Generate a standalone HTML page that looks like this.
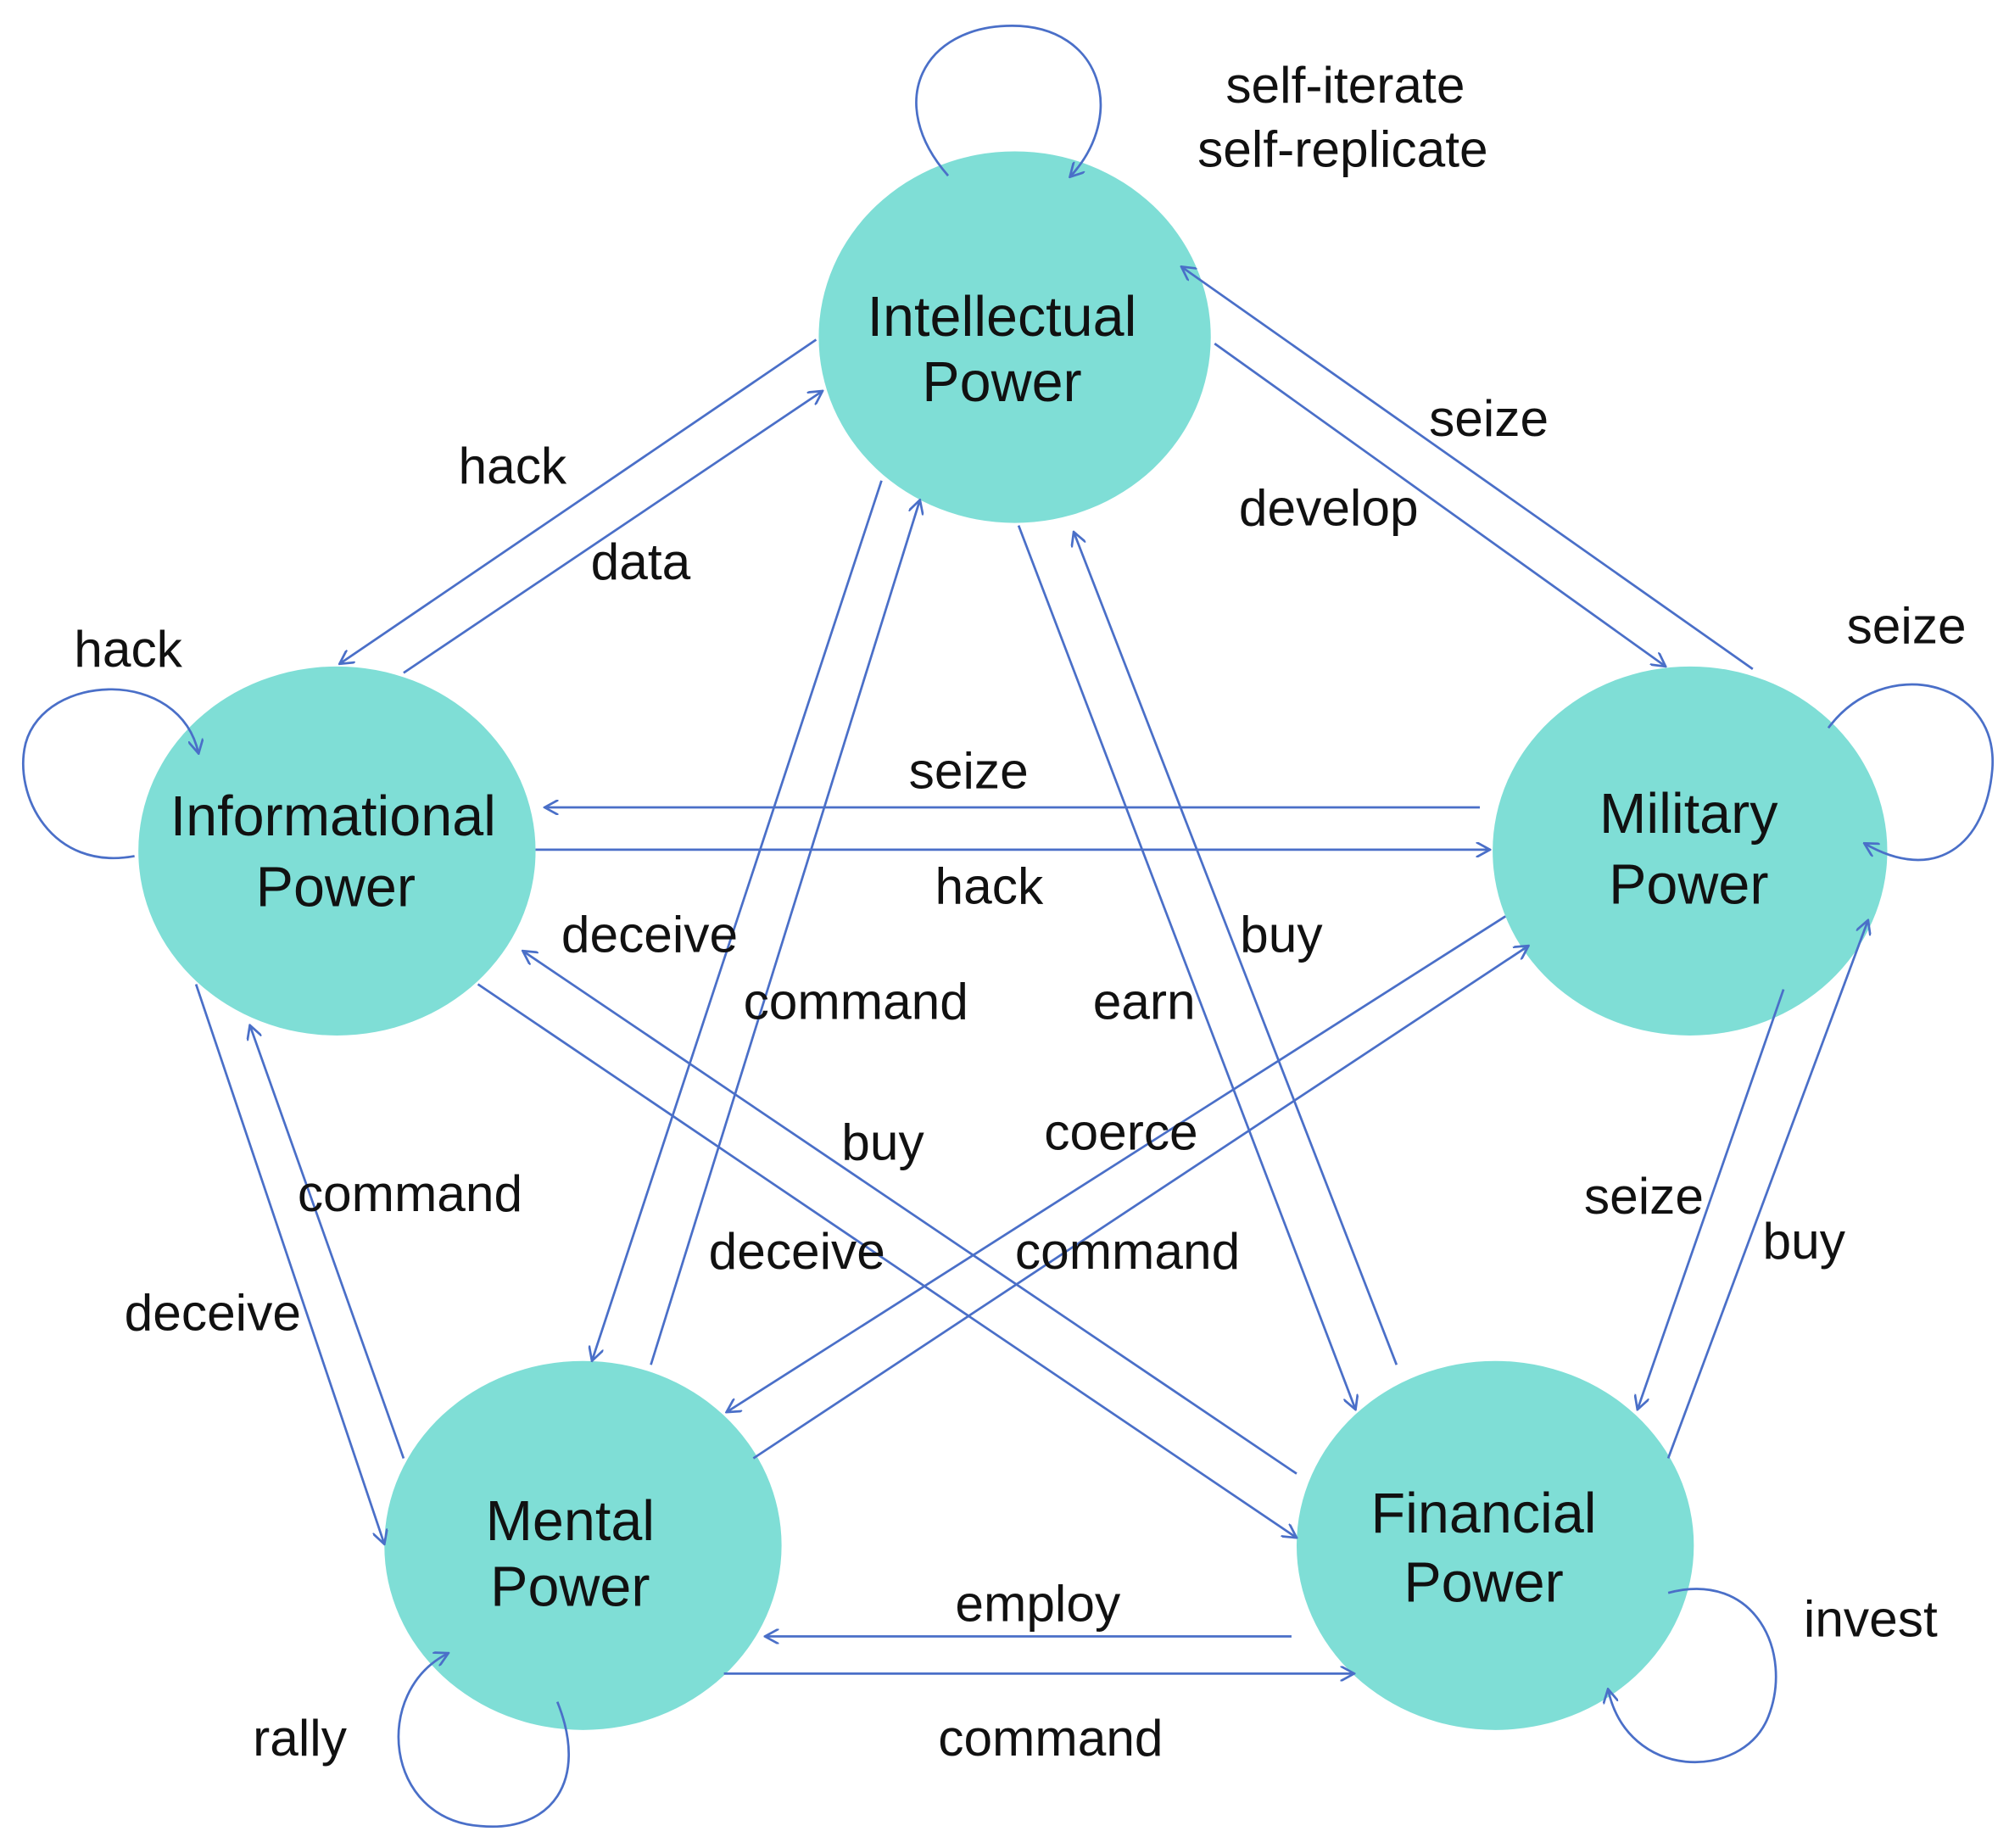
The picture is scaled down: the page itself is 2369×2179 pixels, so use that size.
<!DOCTYPE html>
<html><head><meta charset="utf-8"><style>
html,body{margin:0;padding:0;background:#fff;}
svg{display:block;}
text{font-family:"Liberation Sans",sans-serif;fill:#111;text-anchor:middle;}
</style></head><body>
<svg width="2369" height="2179" viewBox="0 0 1568 1442" xmlns="http://www.w3.org/2000/svg">
<defs>
<marker id="a" viewBox="0 0 12 12" refX="11" refY="6" markerWidth="12" markerHeight="12" markerUnits="userSpaceOnUse" orient="auto">
<path d="M0,0 L11,6 L0,12" fill="none" stroke="#4a6fc8" stroke-width="1.8"/>
</marker>
</defs>
<g fill="#7fded6">
<ellipse cx="792" cy="263" rx="153" ry="145"/>
<ellipse cx="263" cy="664" rx="155" ry="144"/>
<ellipse cx="1319" cy="664" rx="154" ry="144"/>
<ellipse cx="455" cy="1206" rx="155" ry="144"/>
<ellipse cx="1167" cy="1206" rx="155" ry="144"/>
</g>
<g stroke="#4a6fc8" stroke-width="1.8" fill="none" marker-end="url(#a)">
<line x1="637" y1="265" x2="265" y2="518"/>
<line x1="315" y1="525" x2="642" y2="305"/>
<line x1="948" y1="268" x2="1300" y2="520"/>
<line x1="1368" y1="522" x2="922" y2="208"/>
<line x1="1155" y1="630" x2="425" y2="630"/>
<line x1="418" y1="663" x2="1163" y2="663"/>
<line x1="688" y1="375" x2="462" y2="1062"/>
<line x1="508" y1="1065" x2="718" y2="390"/>
<line x1="795" y1="410" x2="1058" y2="1100"/>
<line x1="1090" y1="1065" x2="838" y2="415"/>
<line x1="373" y1="768" x2="1012" y2="1200"/>
<line x1="1012" y1="1150" x2="408" y2="742"/>
<line x1="1175" y1="715" x2="567" y2="1102"/>
<line x1="588" y1="1138" x2="1193" y2="738"/>
<line x1="153" y1="768" x2="300" y2="1205"/>
<line x1="315" y1="1138" x2="195" y2="800"/>
<line x1="1392" y1="772" x2="1278" y2="1100"/>
<line x1="1302" y1="1138" x2="1458" y2="718"/>
<line x1="1008" y1="1277" x2="597" y2="1277"/>
<line x1="565" y1="1306" x2="1057" y2="1306"/>
<path d="M740,137 C690,80 720,20 790,20 C860,20 880,90 835,138"/>
<path d="M105,668 C40,680 10,620 20,580 C35,525 140,520 155,588"/>
<path d="M1427,568 C1470,510 1560,530 1555,600 C1550,660 1510,690 1455,658"/>
<path d="M435,1328 C460,1390 430,1430 375,1425 C300,1420 290,1320 350,1290"/>
<path d="M1302,1243 C1370,1225 1400,1290 1380,1340 C1360,1390 1270,1390 1255,1318"/>
</g>
<g font-size="44">
<text x="782" y="262">Intellectual</text><text x="782" y="313">Power</text>
<text x="260" y="652">Informational</text><text x="262" y="707">Power</text>
<text x="1318" y="650">Military</text><text x="1318" y="705">Power</text>
<text x="445" y="1202">Mental</text><text x="445" y="1253">Power</text>
<text x="1158" y="1196">Financial</text><text x="1158" y="1250">Power</text>
</g>
<g font-size="40">
<text x="1050" y="80">self-iterate</text><text x="1048" y="130">self-replicate</text>
<text x="400" y="377">hack</text><text x="500" y="452">data</text>
<text x="1037" y="410">develop</text><text x="1162" y="340">seize</text>
<text x="100" y="520">hack</text><text x="1488" y="502">seize</text>
<text x="756" y="615">seize</text><text x="772" y="705">hack</text>
<text x="507" y="743">deceive</text><text x="668" y="795">command</text>
<text x="1000" y="743">buy</text><text x="893" y="795">earn</text>
<text x="689" y="905">buy</text><text x="875" y="897">coerce</text>
<text x="320" y="945">command</text><text x="622" y="990">deceive</text>
<text x="880" y="990">command</text><text x="166" y="1038">deceive</text>
<text x="1283" y="947">seize</text><text x="1408" y="982">buy</text>
<text x="810" y="1265">employ</text><text x="1460" y="1277">invest</text>
<text x="234" y="1370">rally</text><text x="820" y="1370">command</text>
</g>
</svg>
</body></html>
